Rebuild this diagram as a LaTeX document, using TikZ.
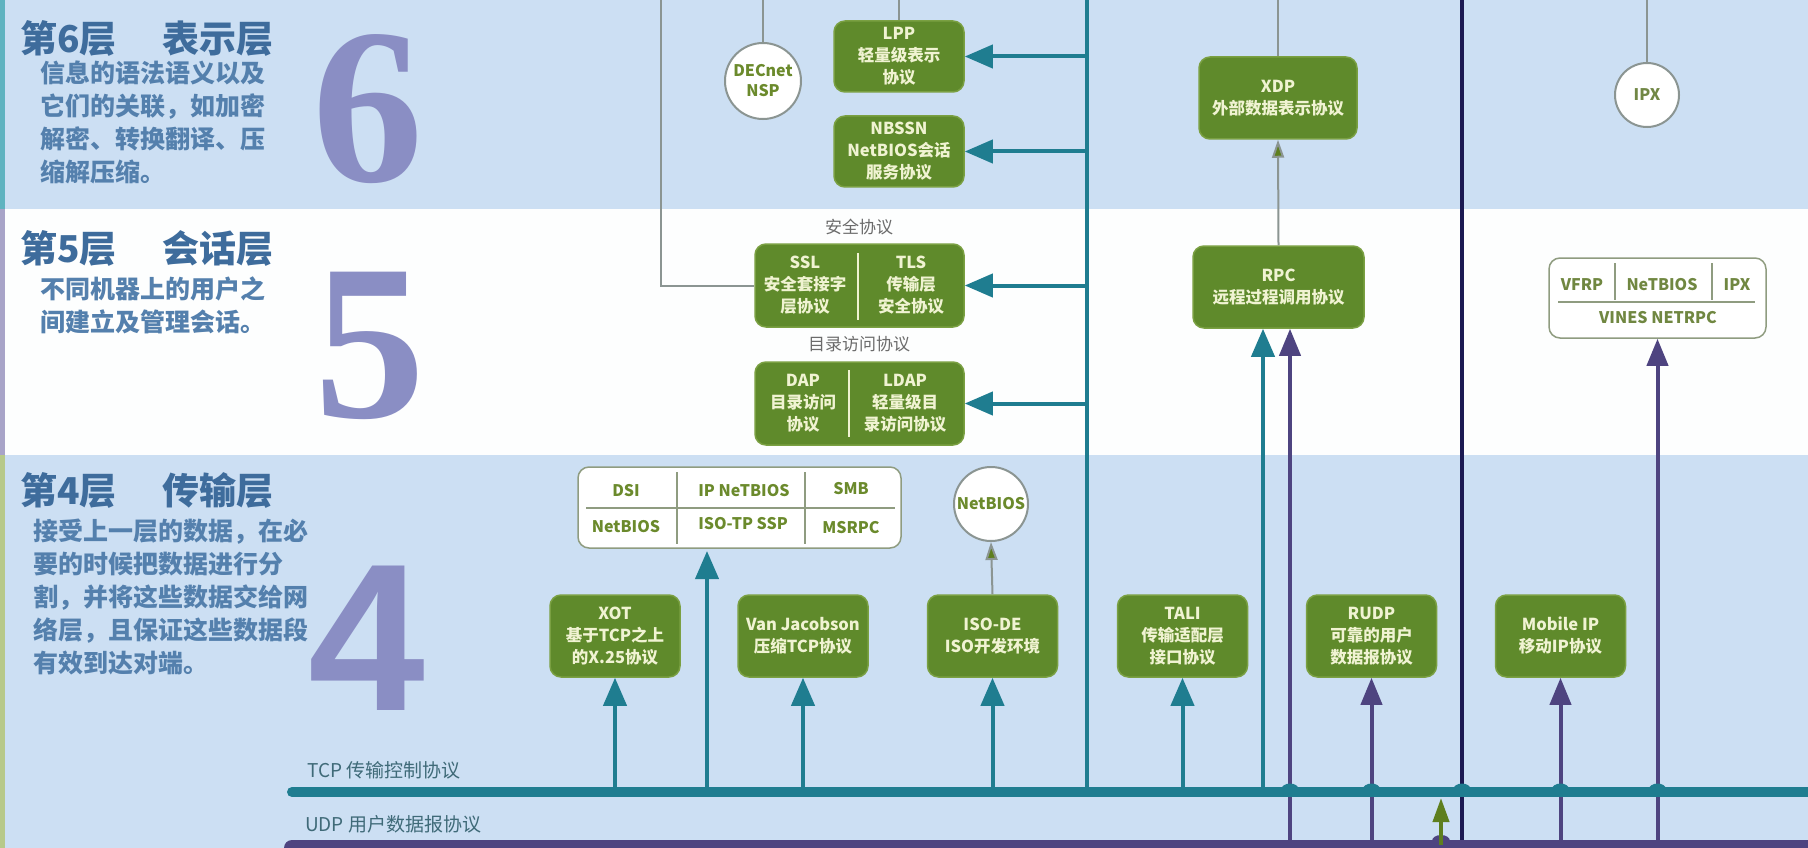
\documentclass[tikz,border=0pt]{standalone}
\usepackage{fontspec}
\setmainfont{Noto Sans CJK SC}
\newfontfamily\digitserif{Liberation Serif}
\newfontfamily\digitsans{Liberation Sans}
\usetikzlibrary{arrows.meta}
\definecolor{bandblue}{HTML}{CCDFF3}
\definecolor{bandwhite}{HTML}{FDFEFE}
\definecolor{tealc}{HTML}{1F7D90}
\definecolor{purplec}{HTML}{4E4480}
\definecolor{navyc}{HTML}{1C1A52}
\definecolor{grayline}{HTML}{8B9592}
\definecolor{gfill}{HTML}{5F8A2B}
\definecolor{gdraw}{HTML}{7AA042}
\definecolor{gtext}{HTML}{F0F3D2}
\definecolor{wdraw}{HTML}{8F9C80}
\definecolor{olivetext}{HTML}{6B8A2C}
\definecolor{lblgray}{HTML}{6B6B6B}
\definecolor{titleblue}{HTML}{3E6C9C}
\definecolor{descblue}{HTML}{5480AD}
\definecolor{digitc}{HTML}{8A8EC4}
\definecolor{buslbl}{HTML}{3F6A78}
\definecolor{stripeA}{HTML}{5FB3C0}
\definecolor{stripeB}{HTML}{A8A4C8}
\definecolor{stripeC}{HTML}{B7C98A}
\definecolor{olivearrow}{HTML}{5E7F1E}
\begin{document}
\begin{tikzpicture}[x=1pt,y=-1pt,
  gbox/.style={draw=gdraw, fill=gfill, line width=1.5pt, rounded corners=11pt, text=gtext,
    font=\bfseries\fontsize{16.5}{22}\selectfont, align=center, inner sep=0pt,
    minimum width=130pt, minimum height=82pt},
  gtxt/.style={text=gtext, font=\bfseries\fontsize{16.5}{22}\selectfont, align=center, inner sep=0pt},
  gdiv/.style={draw=gtext, line width=1.2pt},
  wbox/.style={draw=wdraw, fill=white, line width=1.5pt, rounded corners=11pt, inner sep=0pt},
  wdiv/.style={draw=wdraw, line width=1.3pt},
  wtxt/.style={text=olivetext, font=\bfseries\fontsize{16}{20}\selectfont, inner sep=0pt},
  circ/.style={circle, draw=grayline, fill=white, line width=2pt, inner sep=0pt,
    text=olivetext, font=\bfseries\fontsize{16}{20}\selectfont, align=center},
  lbl/.style={text=lblgray, font=\fontsize{17}{20}\selectfont, inner sep=0pt},
  title/.style={text=titleblue, font=\bfseries\fontsize{37}{42}\selectfont, anchor=west, inner sep=0pt},
  desc/.style={text=descblue, font=\bfseries\fontsize{25}{33}\selectfont, align=left, anchor=north west, inner sep=0pt},
  bignum/.style={text=digitc, anchor=base west, inner sep=0pt},
  busl/.style={text=buslbl, font=\fontsize{19}{22}\selectfont, anchor=west, inner sep=0pt},
  gline/.style={draw=grayline, line width=2pt},
  trunkline/.style={draw=tealc, line width=4.5pt},
  tarrow/.style={draw=tealc, line width=4pt, -{Triangle[width=23pt,length=28pt]}},
  parrow/.style={draw=purplec, line width=4pt, -{Triangle[width=21pt,length=27pt]}},
  garrow/.style={draw=grayline, line width=2pt, -{Triangle[width=12pt,length=18pt,fill=olivearrow]}},
  oarrow/.style={draw=olivearrow, line width=4pt, -{Triangle[width=16pt,length=24pt]}},
  navyline/.style={draw=navyc, line width=3.5pt},
  pline/.style={draw=purplec, line width=3.5pt}
]
\useasboundingbox (0,0) rectangle (1808,848);
% bands
\fill[bandblue] (0,0) rectangle (1808,209);
\fill[bandwhite] (0,209) rectangle (1808,455);
\fill[bandblue] (0,455) rectangle (1808,848);
\fill[stripeA] (0,0) rectangle (5,209);
\fill[stripeB] (0,209) rectangle (5,455);
\fill[stripeC] (0,455) rectangle (5,848);

% left texts
\node[title] (t6) at (20,38) {第6层\hspace{46pt}表示层};
\node[desc] (d6) at (40,61) {信息的语法语义以及\\它们的关联，如加密\\解密、转换翻译、压\\缩解压缩。};
\node[title] (t5) at (20,248) {第5层\hspace{46pt}会话层};
\node[desc] (d5) at (40,277) {不同机器上的用户之\\间建立及管理会话。};
\node[title] (t4) at (20,490) {第4层\hspace{46pt}传输层};
\node[desc] (d4) at (33,519) {接受上一层的数据，在必\\要的时候把数据进行分\\割，并将这些数据交给网\\络层，且保证这些数据段\\有效到达对端。};
\node[bignum, font=\digitserif\bfseries\fontsize{222}{222}\selectfont] (n6) at (312,182) {6};
\node[bignum, font=\digitserif\bfseries\fontsize{222}{222}\selectfont] (n5) at (314,417) {5};
\node[bignum, font=\digitsans\bfseries\fontsize{210}{210}\selectfont] (n4) at (308,710) {4};

% coordinates
\coordinate (top) at (0,0);
\coordinate (tcp) at (0,792);
\coordinate (udp) at (0,845);
\coordinate (g1) at (661,0);
\coordinate (trunktop) at (1087,0);
\coordinate (trunkbot) at (1087,792);
\coordinate (navytop) at (1462,0);
\coordinate (navybot) at (1462,845);

% layer 6 / 5 centre column
\node[gbox, minimum height=71pt] (lpp) at (899,56.5) {LPP\\轻量级表示\\协议};
\node[gbox, minimum height=71pt] (nbssn) at (899,151.5) {NBSSN\\NetBIOS会话\\服务协议};
\node[circ, minimum size=76pt] (decnet) at (763,81) {DECnet\\NSP};
\node[lbl] (seclbl) at (859,227) {安全协议};
\node[gbox, minimum width=209pt, minimum height=83pt] (ssl) at (859.5,285.5) {};
\node[gtxt] (ssltxt) at (805,285) {SSL\\安全套接字\\层协议};
\node[gtxt] (tlstxt) at (911,285) {TLS\\传输层\\安全协议};
\draw[gdiv] (858,253) -- (858,320);
\node[lbl] (dirlbl) at (859,344) {目录访问协议};
\node[gbox, minimum width=209pt, minimum height=83pt] (dap) at (859.5,403.5) {};
\node[gtxt] (daptxt) at (803,403) {DAP\\目录访问\\协议};
\node[gtxt] (ldaptxt) at (905,403) {LDAP\\轻量级目\\录访问协议};
\draw[gdiv] (849,370) -- (849,437);

% gray connectors
\draw[gline] (g1) |- (ssl.west);
\draw[gline] (decnet.north |- top) -- (decnet.north);
\draw[gline] (lpp.north |- top) -- (lpp.north);

% trunk
\draw[trunkline] (trunktop) -- (trunkbot);
\draw[tarrow] (lpp.east -| trunktop) -- (lpp.east);
\draw[tarrow] (nbssn.east -| trunktop) -- (nbssn.east);
\draw[tarrow] (ssl.east -| trunktop) -- (ssl.east);
\draw[tarrow] (dap.east -| trunktop) -- (dap.east);

% right column
\node[gbox, minimum width=158pt] (xdp) at (1278,98) {XDP\\外部数据表示协议};
\node[gbox, minimum width=171pt] (rpc) at (1278.5,287) {RPC\\远程过程调用协议};
\draw[gline] (xdp.north |- top) -- (xdp.north);
\draw[garrow] (rpc.north) -- (xdp.south);
\node[circ, minimum size=64pt, text=olivetext!70!gray] (ipx) at (1647,95) {IPX};
\draw[gline] (ipx.north |- top) -- (ipx.north);
\node[wbox, minimum width=217pt, minimum height=80pt] (vfrp) at (1657.5,298) {};
\draw[wdiv] (1615,263) -- (1615,300);
\draw[wdiv] (1712,263) -- (1712,300);
\draw[wdiv] (1558,302) -- (1755,302);
\node[wtxt, text=olivetext!75!gray] (vf1) at (1582,285) {VFRP};
\node[wtxt, text=olivetext!75!gray] (vf2) at (1662,285) {NeTBIOS};
\node[wtxt, text=olivetext!75!gray] (vf3) at (1737,285) {IPX};
\node[wtxt, text=olivetext!75!gray] (vf4) at (1658,318) {VINES NETRPC};

% layer 4
\node[wbox, minimum width=323pt, minimum height=81pt] (tbl) at (739.5,507.5) {};
\draw[wdiv] (677,472) -- (677,544);
\draw[wdiv] (805,472) -- (805,544);
\draw[wdiv] (586,508) -- (895,508);
\node[wtxt] (c1) at (626,491) {DSI};
\node[wtxt] (c2) at (744,491) {IP NeTBIOS};
\node[wtxt] (c3) at (851,489) {SMB};
\node[wtxt] (c4) at (626,527) {NetBIOS};
\node[wtxt] (c5) at (743,524) {ISO-TP SSP};
\node[wtxt] (c6) at (851,528) {MSRPC};
\node[circ, minimum size=74pt] (nbc) at (991,504) {NetBIOS};

\node[gbox] (xot) at (615,636) {XOT\\基于TCP之上\\的X.25协议};
\node[gbox] (vj) at (803,636) {Van Jacobson\\压缩TCP协议};
\node[gbox] (isode) at (992.5,636) {ISO-DE\\ISO开发环境};
\node[gbox] (tali) at (1182.5,636) {TALI\\传输适配层\\接口协议};
\node[gbox] (rudp) at (1371.5,636) {RUDP\\可靠的用户\\数据报协议};
\node[gbox] (mip) at (1560.5,636) {Mobile IP\\移动IP协议};
\draw[garrow] (isode.north) -- (nbc.south);

\coordinate (tblin) at (707,551);
\coordinate (rpcT) at ([xshift=-15.5pt]rpc.south);
\coordinate (rpcP) at ([xshift=11.5pt]rpc.south);
\coordinate (gA) at (1441,845);
\coordinate (gB) at (1441,798);

% vertical lines reaching the buses
\draw[navyline] (navytop) -- (navybot);
\draw[tarrow] (tblin |- tcp) -- (tblin);
\draw[tarrow] (xot.south |- tcp) -- (xot.south);
\draw[tarrow] (vj.south |- tcp) -- (vj.south);
\draw[tarrow] (isode.south |- tcp) -- (isode.south);
\draw[tarrow] (tali.south |- tcp) -- (tali.south);
\draw[tarrow] (rpcT |- tcp) -- (rpcT);
\draw[parrow] (rpcP |- udp) -- (rpcP);
\draw[parrow] (rudp.south |- udp) -- (rudp.south);
\draw[parrow] (mip.south |- udp) -- (mip.south);
\draw[parrow] (vfrp.south |- udp) -- (vfrp.south);

% buses
\coordinate (tcpL) at (292,792);
\coordinate (tcpR) at (1830,792);
\coordinate (udpL) at (292,848);
\coordinate (udpR) at (1830,848);
\draw[draw=tealc, line width=10pt, line cap=round] (tcpL) -- (tcpR);
\draw[draw=purplec, line width=16pt, line cap=round] (udpL) -- (udpR);
\foreach \bx in {1290,1371.5,1462,1560.5,1657.5} {
  \fill[tealc] (\bx,790) ellipse (9pt and 6.5pt);
}
\fill[purplec] (1441,841) ellipse (9pt and 6pt);
\draw[oarrow] (gA) -- (gB);
\node[busl] (tcplbl) at (307,770) {TCP 传输控制协议};
\node[busl] (udplbl) at (305,824) {UDP 用户数据报协议};
\end{tikzpicture}
\end{document}
